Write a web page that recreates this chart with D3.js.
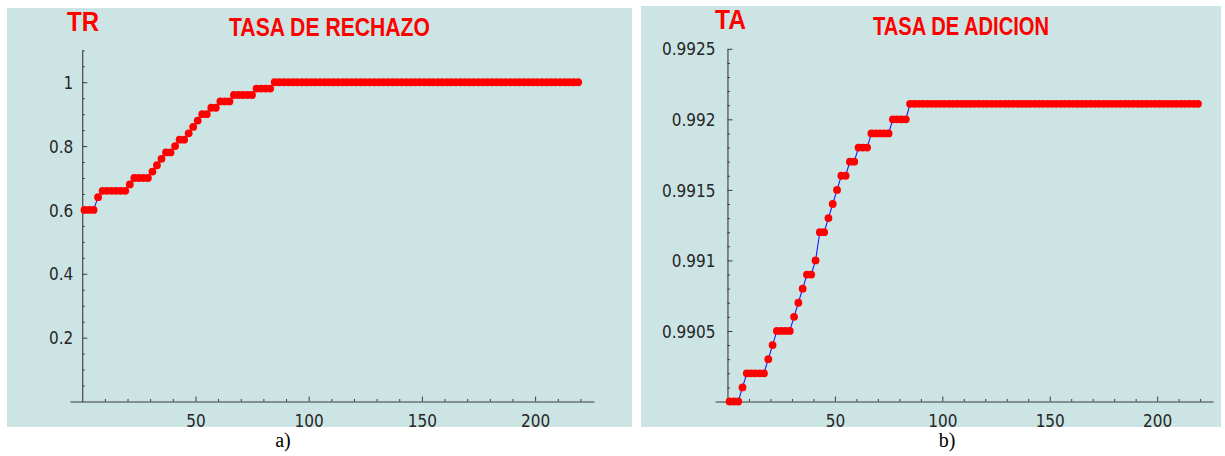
<!DOCTYPE html>
<html>
<head>
<meta charset="utf-8">
<script src="https://cdn.jsdelivr.net/npm/d3@7"></script>
<style>
  html, body { margin: 0; padding: 0; background: #ffffff; }
  svg { display: block; }
</style>
</head>
<body>
<svg id="chart" width="1225" height="456"></svg>
<script>
// ---------------- DATA ----------------
const xValues = [
  1, 3, 5, 7, 9, 11, 13, 15, 17, 19, 21, 23, 25, 27, 29, 31, 33, 35, 37, 39,
  41, 43, 45, 47, 49, 51, 53, 55, 57, 59, 61, 63, 65, 67, 69, 71, 73, 75, 77, 79,
  81, 83, 85, 87, 89, 91, 93, 95, 97, 99, 101, 103, 105, 107, 109, 111, 113, 115, 117, 119,
  121, 123, 125, 127, 129, 131, 133, 135, 137, 139, 141, 143, 145, 147, 149, 151, 153, 155, 157, 159,
  161, 163, 165, 167, 169, 171, 173, 175, 177, 179, 181, 183, 185, 187, 189, 191, 193, 195, 197, 199,
  201, 203, 205, 207, 209, 211, 213, 215, 217, 219
];

// a) TASA DE RECHAZO (TR)
const trValues = [
  0.60, 0.60, 0.60, 0.64, 0.66, 0.66, 0.66, 0.66, 0.66, 0.66, 0.68, 0.70, 0.70, 0.70, 0.70, 0.72, 0.74, 0.76, 0.78, 0.78,
  0.80, 0.82, 0.82, 0.84, 0.86, 0.88, 0.90, 0.90, 0.92, 0.92, 0.94, 0.94, 0.94, 0.96, 0.96, 0.96, 0.96, 0.96, 0.98, 0.98,
  0.98, 0.98, 1, 1, 1, 1, 1, 1, 1, 1, 1, 1, 1, 1, 1, 1, 1, 1, 1, 1,
  1, 1, 1, 1, 1, 1, 1, 1, 1, 1, 1, 1, 1, 1, 1, 1, 1, 1, 1, 1,
  1, 1, 1, 1, 1, 1, 1, 1, 1, 1, 1, 1, 1, 1, 1, 1, 1, 1, 1, 1,
  1, 1, 1, 1, 1, 1, 1, 1, 1, 1
];

// b) TASA DE ADICION (TA)
const taValues = [
  0.9900, 0.9900, 0.9900, 0.9901, 0.9902, 0.9902, 0.9902, 0.9902, 0.9902, 0.9903, 0.9904, 0.9905, 0.9905, 0.9905, 0.9905, 0.9906, 0.9907, 0.9908, 0.9909, 0.9909,
  0.9910, 0.9912, 0.9912, 0.9913, 0.9914, 0.9915, 0.9916, 0.9916, 0.9917, 0.9917, 0.9918, 0.9918, 0.9918, 0.9919, 0.9919, 0.9919, 0.9919, 0.9919, 0.9920, 0.9920,
  0.9920, 0.9920, 0.99211, 0.99211, 0.99211, 0.99211, 0.99211, 0.99211, 0.99211, 0.99211, 0.99211, 0.99211, 0.99211, 0.99211, 0.99211, 0.99211, 0.99211, 0.99211, 0.99211, 0.99211,
  0.99211, 0.99211, 0.99211, 0.99211, 0.99211, 0.99211, 0.99211, 0.99211, 0.99211, 0.99211, 0.99211, 0.99211, 0.99211, 0.99211, 0.99211, 0.99211, 0.99211, 0.99211, 0.99211, 0.99211,
  0.99211, 0.99211, 0.99211, 0.99211, 0.99211, 0.99211, 0.99211, 0.99211, 0.99211, 0.99211, 0.99211, 0.99211, 0.99211, 0.99211, 0.99211, 0.99211, 0.99211, 0.99211, 0.99211, 0.99211,
  0.99211, 0.99211, 0.99211, 0.99211, 0.99211, 0.99211, 0.99211, 0.99211, 0.99211, 0.99211
];

const xMajorTicks = [50, 100, 150, 200];
const xTickLabels = ["50", "100", "150", "200"];
const trMajorTicks = [0.2, 0.4, 0.6, 0.8, 1.0];
const trTickLabels = ["0.2", "0.4", "0.6", "0.8", "1"];
const taMajorTicks = [0.9905, 0.991, 0.9915, 0.992, 0.9925];
const taTickLabels = ["0.9905", "0.991", "0.9915", "0.992", "0.9925"];

const titles = ["TASA DE RECHAZO", "TASA DE ADICION"];
const axisNames = ["TR", "TA"];
const captions = ["a)", "b)"];

// ---------------- DRAWING ----------------
const svg = d3.select("#chart");
const BG = "#cce5e4";
const AXIS = "#3a3a3a";
const TICKFONT = "'DejaVu Sans Condensed', 'DejaVu Sans', sans-serif";

const panels = [
  {
    bg: {x: 7, y: 8, w: 625, h: 419},
    x: d3.scaleLinear().domain([-5.4, 226]).range([70, 594]),
    y: d3.scaleLinear().domain([0, 1.1]).range([401.5, 50.3]),
    values: trValues,
    majors: trMajorTicks, labels: trTickLabels,
    minors: d3.range(1, 23).map(i => +(i * 0.05).toFixed(2)).filter(v => !trMajorTicks.some(m => Math.abs(m - v) < 1e-9)),
    labelGap: 9,
    name: axisNames[0], nameX: 67, nameW: 32, nameY: 30.5,
    title: titles[0], titleX: 229, titleW: 201, titleY: 36,
    caption: captions[0], capX: 283
  },
  {
    bg: {x: 641, y: 6, w: 580, h: 421},
    x: d3.scaleLinear().domain([-5.8, 226]).range([715, 1213]),
    y: d3.scaleLinear().domain([0.99, 0.9925]).range([401.5, 48.8]),
    values: taValues,
    majors: taMajorTicks, labels: taTickLabels,
    minors: d3.range(1, 26).map(i => +(0.99 + i * 0.0001).toFixed(4)).filter(v => !taMajorTicks.some(m => Math.abs(m - v) < 1e-9)),
    labelGap: 12,
    name: axisNames[1], nameX: 715, nameW: 31, nameY: 28.5,
    title: titles[1], titleX: 873, titleW: 176, titleY: 35,
    caption: captions[1], capX: 947
  }
];

const xMinorTicks = d3.range(10, 230, 10).filter(v => !xMajorTicks.includes(v));

panels.forEach(p => {
  const g = svg.append("g");
  g.append("rect")
    .attr("x", p.bg.x).attr("y", p.bg.y)
    .attr("width", p.bg.w).attr("height", p.bg.h)
    .attr("fill", BG);

  const x0 = p.x(0);
  const yBase = p.y.range()[0];

  const xMinorAxis = d3.axisBottom(p.x).tickValues(xMinorTicks).tickSizeInner(-2.5).tickSizeOuter(0).tickFormat("");
  const gxm = g.append("g").attr("transform", `translate(0,${yBase})`).call(xMinorAxis);
  const xMajorAxis = d3.axisBottom(p.x).tickValues(xMajorTicks).tickSizeInner(-5).tickSizeOuter(0)
    .tickFormat((d, i) => xTickLabels[i]);
  const gx = g.append("g").attr("transform", `translate(0,${yBase})`).call(xMajorAxis);

  const yMinorAxis = d3.axisLeft(p.y).tickValues(p.minors).tickSizeInner(-2.5).tickSizeOuter(0).tickFormat("");
  const gym = g.append("g").attr("transform", `translate(${x0},0)`).call(yMinorAxis);
  const yMajorAxis = d3.axisLeft(p.y).tickValues(p.majors).tickSizeInner(-5).tickSizeOuter(0)
    .tickFormat((d, i) => p.labels[i]);
  const gy = g.append("g").attr("transform", `translate(${x0},0)`).call(yMajorAxis);

  [gxm, gx, gym, gy].forEach(a => {
    a.select(".domain").attr("stroke", AXIS).attr("stroke-width", 1.1);
    a.selectAll(".tick line").attr("stroke", AXIS).attr("stroke-width", 1);
  });
  gxm.select(".domain").remove();
  gym.select(".domain").remove();

  gx.selectAll(".tick text")
    .attr("y", 25.5).attr("dy", 0)
    .attr("fill", "#262626")
    .style("font-family", TICKFONT).style("font-size", "17px");
  gx.attr("font-family", null).attr("font-size", null);

  gy.selectAll(".tick text")
    .attr("x", -p.labelGap).attr("dy", "0.36em")
    .attr("fill", "#262626")
    .style("font-family", TICKFONT).style("font-size", "17px");
  gy.attr("font-family", null).attr("font-size", null);

  const pts = xValues.map((xv, i) => [xv, p.values[i]]);
  const line = d3.line().x(d => p.x(d[0])).y(d => p.y(d[1]));
  g.append("path")
    .datum(pts)
    .attr("d", line)
    .attr("fill", "none")
    .attr("stroke", "#1a1aff")
    .attr("stroke-width", 1.1);

  g.selectAll("circle.pt")
    .data(pts)
    .enter().append("circle")
    .attr("class", "pt")
    .attr("cx", d => p.x(d[0]))
    .attr("cy", d => p.y(d[1]))
    .attr("r", 3.9)
    .attr("fill", "#ff0000");

  g.append("text")
    .attr("x", p.nameX).attr("y", p.nameY)
    .attr("textLength", p.nameW).attr("lengthAdjust", "spacingAndGlyphs")
    .attr("fill", "#ff0000")
    .style("font-family", "'Liberation Sans', Arial, sans-serif")
    .style("font-weight", "bold")
    .style("font-size", "27px")
    .text(p.name);

  g.append("text")
    .attr("x", p.titleX).attr("y", p.titleY)
    .attr("textLength", p.titleW).attr("lengthAdjust", "spacingAndGlyphs")
    .attr("fill", "#ff0000")
    .style("font-family", "'Liberation Sans', Arial, sans-serif")
    .style("font-weight", "bold")
    .style("font-size", "25px")
    .text(p.title);

  svg.append("text")
    .attr("x", p.capX).attr("y", 447)
    .attr("text-anchor", "middle")
    .attr("fill", "#000")
    .style("font-family", "'Liberation Serif', 'Times New Roman', serif")
    .style("font-size", "20px")
    .text(p.caption);
});
</script>
</body>
</html>
